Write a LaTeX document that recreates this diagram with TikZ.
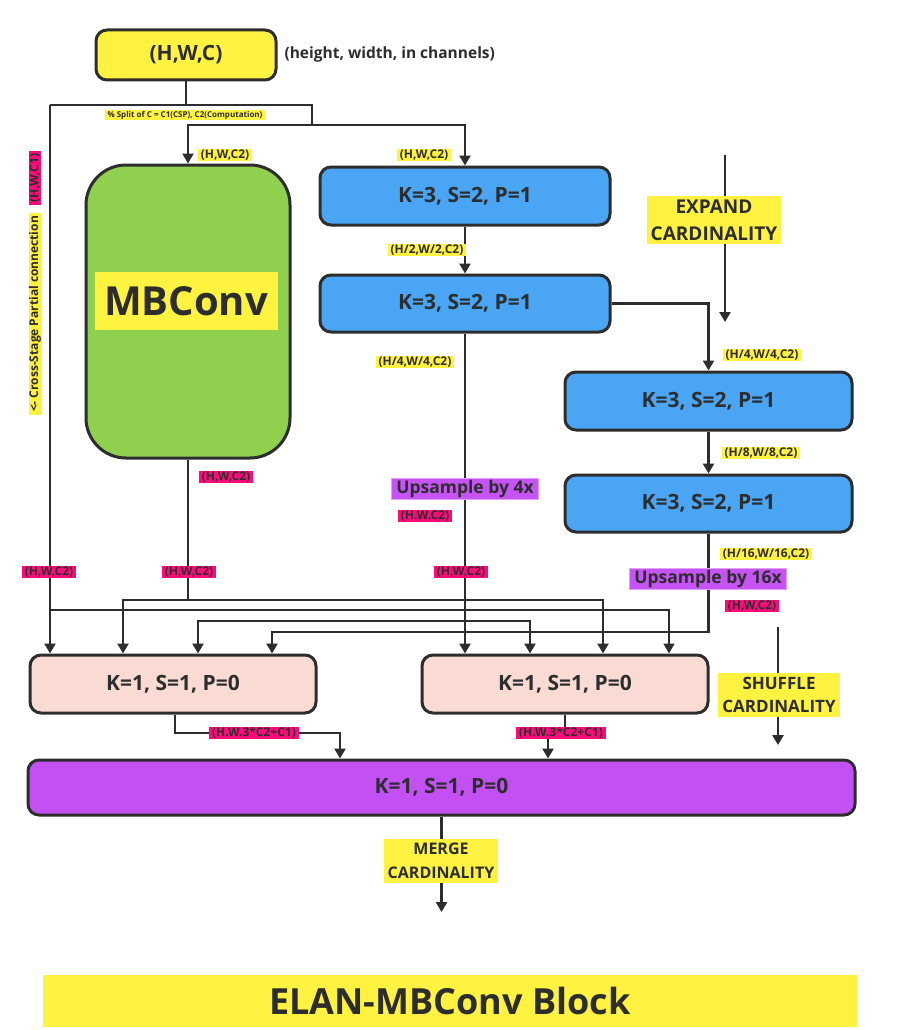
\documentclass[tikz,border=0pt]{standalone}
\usepackage{fontspec}
\setmainfont{Open Sans}
\usetikzlibrary{arrows.meta,positioning}

\definecolor{tagyellow}{HTML}{FFF240}
\definecolor{tagpink}{HTML}{FF0A7A}
\definecolor{tagpurple}{HTML}{C654F5}
\definecolor{boxgreen}{HTML}{8FD14F}
\definecolor{boxblue}{HTML}{4AA6F5}
\definecolor{boxpink}{HTML}{FADBD4}
\definecolor{boxpurple}{HTML}{C250F2}
\definecolor{ink}{HTML}{2D2D2D}

\tikzset{
  block/.style={draw=ink, line width=3pt, rounded corners=11pt, text=ink,
    font=\fontsize{21}{24}\selectfont\bfseries},
  convbox/.style={block, fill=boxblue, minimum width=290pt, minimum height=58pt},
  mixbox/.style={block, fill=boxpink, minimum width=286pt, minimum height=58pt},
  tag/.style={inner xsep=3pt, inner ysep=0.5pt, text=ink,
    font=\fontsize{12}{13}\selectfont\bfseries},
  ytag/.style={tag, fill=tagyellow},
  ptag/.style={tag, fill=tagpink},
  uptag/.style={fill=tagpurple, draw=tagpurple!55, line width=1pt, text=ink,
    inner xsep=5pt, inner ysep=1.5pt, font=\fontsize{17.5}{19}\selectfont\bfseries},
  note/.style={fill=tagyellow, align=center, text=ink, inner sep=4pt,
    font=\fontsize{16}{24}\selectfont\bfseries},
  wire/.style={draw=ink, line width=2.5pt},
  arr/.style={wire, -{Triangle[width=11pt,length=10pt]}},
}

\begin{document}
\begin{tikzpicture}[x=1pt, y=-1pt]
  \useasboundingbox[fill=white] (0,0) rectangle (904,1030); %Page

  % blocks
  \node[block, fill=tagyellow, minimum width=180pt, minimum height=50pt,
    font=\fontsize{21}{24}\selectfont\bfseries] (input) at (186,55) {(H,W,C)};
  \node[anchor=west, text=ink, font=\fontsize{15.5}{18}\selectfont\bfseries]
    (inputnote) at (281,54) {(height, width, in channels)};
  \node[block, fill=boxgreen, rounded corners=40pt, minimum width=204pt,
    minimum height=293pt] (mbconv) at (188,311.5) {};
  \node[fill=tagyellow, text=ink, minimum width=183pt, minimum height=58pt,
    font=\fontsize{40}{44}\selectfont\bfseries] (mbname) at (186,301) {MBConv};
  \node[convbox] (conv1) at (465,196) {K=3, S=2, P=1};
  \node[convbox, minimum height=57pt] (conv2) at (465,303.5) {K=3, S=2, P=1};
  \node[convbox, minimum width=287pt] (conv3) at (708.5,401) {K=3, S=2, P=1};
  \node[convbox, minimum width=287pt, minimum height=57pt] (conv4) at (708.5,503.5) {K=3, S=2, P=1};
  \node[mixbox] (mixL) at (173,684) {K=1, S=1, P=0};
  \node[mixbox] (mixR) at (565,684) {K=1, S=1, P=0};
  \node[block, fill=boxpurple, minimum width=827pt, minimum height=55pt] (merge) at (441.5,787.5) {K=1, S=1, P=0};

  % split of the input
  \coordinate (splitL) at (50,105);
  \coordinate (splitR) at (312,105);
  \coordinate (fork) at (312,125);
  \draw[wire] (input.south) |- (splitL);
  \draw[wire] (input.south |- splitL) -- (splitR) -- (fork);
  \draw[arr] (fork) -| (mbconv.north);
  \draw[arr] (fork) -| (conv1.north);

  % down-sampling chain
  \draw[arr] (conv1) -- (conv2);
  \draw[arr] (conv2.east) -| (conv3.north);
  \draw[arr] (conv3) -- (conv4);

  % cross-stage partial connection
  \coordinate (cspbus) at (50,610);
  \draw[arr] (splitL) -- (splitL |- mixL.north);
  \draw[arr, line width=1.6pt] (cspbus) -| ([xshift=104pt]mixR.north);

  % MBConv output
  \coordinate (mbbus) at (188,600);
  \draw[wire] (mbconv.south) -- (mbbus);
  \draw[arr] (mbbus) -| ([xshift=-50pt]mixL.north);
  \draw[arr] (mbbus) -| ([xshift=38pt]mixR.north);

  % upsample by 4x output
  \coordinate (c2bus) at (465,621);
  \draw[arr] (conv2.south) -- (conv2.south |- mixR.north);
  \draw[arr] (c2bus) -| ([xshift=25pt]mixL.north);
  \draw[arr] (c2bus) -| ([xshift=-35pt]mixR.north);

  % upsample by 16x output
  \coordinate (c4bend) at (708.5,632);
  \draw[arr] (conv4.south) -- (c4bend) -| ([xshift=99pt]mixL.north);

  % merge
  \coordinate (mixLbend) at (340,733);
  \coordinate (mixRbend) at (548,733);
  \coordinate (out) at (441.5,912);
  \draw[arr] ([xshift=2pt]mixL.south) |- (mixLbend) -- (mixLbend |- merge.north);
  \draw[arr] (mixR.south) |- (mixRbend) -- (mixRbend |- merge.north);
  \draw[arr] (merge.south) -- (out);

  % cardinality
  \coordinate (expandtop) at (725,155);
  \coordinate (expandend) at (725,322);
  \coordinate (shuffletop) at (778,627);
  \coordinate (shuffleend) at (778,745);
  \draw[arr] (expandtop) -- (expandend);
  \draw[arr] (shuffletop) -- (shuffleend);
  \node[note, font=\fontsize{19}{27}\selectfont\bfseries] (expand) at (714,220) {EXPAND\\CARDINALITY};
  \node[note, font=\fontsize{17}{23}\selectfont\bfseries] (shuffle) at (779,695) {SHUFFLE\\CARDINALITY};
  \node[note] (mergenote) at (441,861) {MERGE\\CARDINALITY};

  % shape tags
  \node[ytag, inner ysep=0.5pt, font=\fontsize{8}{9}\selectfont\bfseries] (splitnote) at (185,115) {\% Split of C = C1(CSP), C2(Computation)};
  \node[ytag] (t1) at (225,155) {(H,W,C2)};
  \node[ytag] (t2) at (424,155) {(H,W,C2)};
  \node[ptag, rotate=90] (t3) at (35,178) {(H,W,C1)};
  \node[ytag, rotate=90] (t4) at (35,314) {<- Cross-Stage Partial connection};
  \node[ytag] (t5) at (427,250) {(H/2,W/2,C2)};
  \node[ytag] (t6) at (415,362) {(H/4,W/4,C2)};
  \node[ptag] (t7) at (226,477) {(H,W,C2)};
  \node[uptag] (up4) at (465,489) {Upsample by 4x};
  \node[ptag] (t8) at (425,516) {(H.W.C2)};
  \node[ptag] (t9) at (49,572) {(H,W,C2)};
  \node[ptag] (t10) at (189,572) {(H,W,C2)};
  \node[ptag] (t11) at (461,572) {(H,W,C2)};
  \node[ytag] (t12) at (762,355) {(H/4,W/4,C2)};
  \node[ytag] (t13) at (761,453) {(H/8,W/8,C2)};
  \node[ytag] (t14) at (766,554) {(H/16,W/16,C2)};
  \node[uptag] (up16) at (708,579) {Upsample by 16x};
  \node[ptag] (t15) at (752,606) {(H,W,C2)};
  \node[ptag] (t16) at (254,733) {(H.W.3*C2+C1)};
  \node[ptag] (t17) at (561,733) {(H.W.3*C2+C1)};

  % title
  \node[fill=tagyellow, text=ink, minimum width=814pt, minimum height=52pt,
    font=\fontsize{36}{40}\selectfont\bfseries] (title) at (450,1001) {ELAN-MBConv Block};
\end{tikzpicture}
\end{document}
